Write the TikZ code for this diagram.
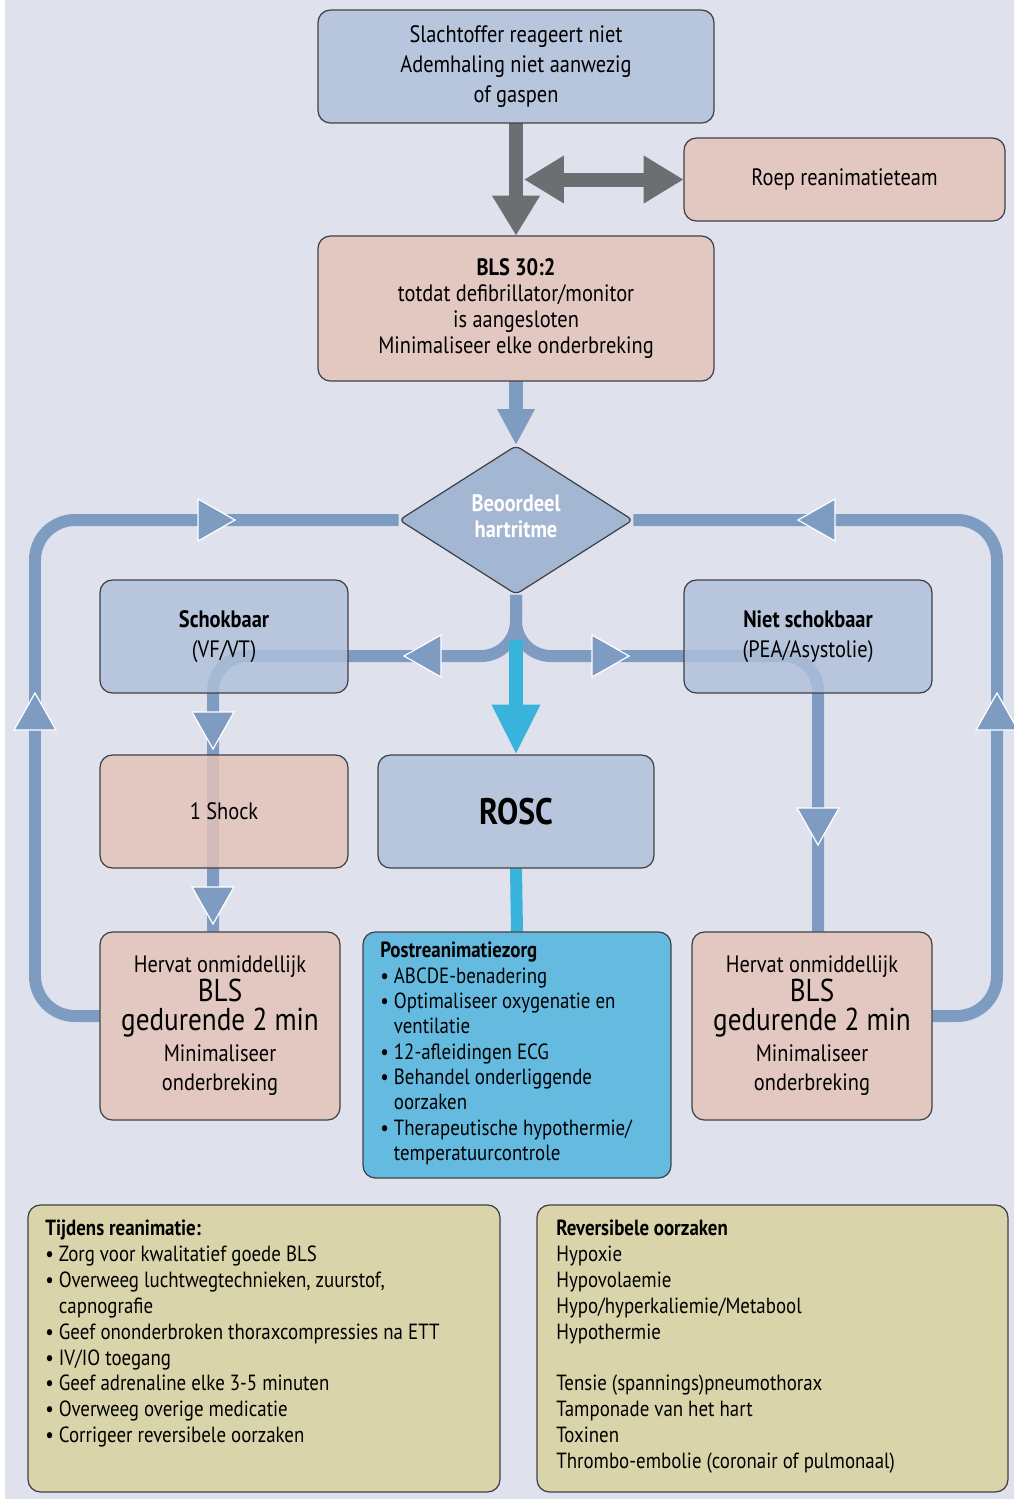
\documentclass[tikz,border=0pt]{standalone}
\usepackage{fontspec}
\setmainfont{PT Sans}[FakeStretch=0.86]
\usetikzlibrary{arrows.meta,shapes.geometric,calc}
\definecolor{bgc}{HTML}{DFE2ED}
\definecolor{boxblue}{HTML}{AFC0D9}
\definecolor{diamc}{HTML}{A3B6D2}
\definecolor{boxpink}{HTML}{E5C3B8}
\definecolor{lineblue}{HTML}{7E9CC1}
\definecolor{cyanarrow}{HTML}{38B4DC}
\definecolor{postc}{HTML}{65BAE0}
\definecolor{olive}{HTML}{D9D4A9}
\definecolor{grayarrow}{HTML}{6D6E71}
\definecolor{bordc}{HTML}{404146}
\tikzset{
  midhead/.pic={\filldraw[fill=lineblue, draw=white, line width=0.7pt] (-18,-21) -- (19,0) -- (-18,21) -- cycle;},
}
\begin{document}
\begin{tikzpicture}[x=0.02cm,y=-0.02cm,
  box/.style={draw=bordc, line width=0.7pt, rounded corners=7pt, inner sep=0pt, align=center, text=black, fill opacity=0.82, text opacity=1},
  bluebox/.style={box, fill=boxblue},
  pinkbox/.style={box, fill=boxpink},
  olivebox/.style={box, fill=olive, fill opacity=1},
  tnorm/.style={font=\fontsize{13.5}{17}\selectfont},
  tsmall/.style={font=\fontsize{12.5}{14.7}\selectfont},
  loopline/.style={draw=lineblue, line width=0.24cm},
  grayline/.style={draw=grayarrow, line width=0.28cm},
  cyanline/.style={draw=cyanarrow, line width=0.28cm},
  txt/.style={inner sep=0pt, align=left, anchor=north west, text=black},
]
\useasboundingbox (0,0) rectangle (1014,1499);
\fill[bgc] (0,0) rectangle (1014,1499);
\fill[white] (0,0) rectangle (5,1499);

% ---------- nodes (positions only; drawn later for transparency over lines) ----------
\path
 (516,66.5)   node[minimum width=7.92cm, minimum height=2.26cm] (start) {}
 (844.5,179.5) node[minimum width=6.42cm, minimum height=1.66cm] (roep) {}
 (516,308.5)  node[minimum width=7.92cm, minimum height=2.9cm] (bls) {}
 (516,520)    node[diamond, minimum width=4.68cm, minimum height=2.98cm, inner sep=0pt] (diam) {}
 (224,636.5)  node[minimum width=4.96cm, minimum height=2.26cm] (schok) {}
 (808,636.5)  node[minimum width=4.96cm, minimum height=2.26cm] (niet) {}
 (224,811.5)  node[minimum width=4.96cm, minimum height=2.26cm] (shock) {}
 (516,811.5)  node[minimum width=5.52cm, minimum height=2.26cm] (rosc) {}
 (220,1026)   node[minimum width=4.8cm, minimum height=3.76cm] (hervatL) {}
 (517,1055)   node[minimum width=6.16cm, minimum height=4.92cm] (post) {}
 (812,1026)   node[minimum width=4.8cm, minimum height=3.76cm] (hervatR) {};

% ---------- blue loop lines ----------
\draw[loopline, rounded corners=0.8cm] ([yshift=0.2cm]hervatL.west) -| (35,520) -- (diam.west);
\draw[loopline, rounded corners=0.8cm] ([yshift=0.2cm]hervatR.east) -| (997,520) -- (diam.east);
\draw[loopline, rounded corners=0.7cm] (diam.south) -- (516,656) -| ([xshift=-0.14cm]hervatL.north);
\draw[loopline, rounded corners=0.7cm] (diam.south) -- (516,656) -| ([xshift=0.12cm]hervatR.north);

\pic[rotate=0]   at (216,520) {midhead};
\pic[rotate=180] at (817,520) {midhead};
\pic[rotate=90]  at (35,712)  {midhead};
\pic[rotate=90]  at (997,712) {midhead};
\pic[rotate=180] at (423,656) {midhead};
\pic[rotate=0]   at (610,656) {midhead};
\pic[rotate=-90] at (213,730) {midhead};
\pic[rotate=-90] at (213,905) {midhead};
\pic[rotate=-90] at (818,826) {midhead};

% ---------- gray arrows ----------
\coordinate (dstart) at (524,179.5);
\draw[grayline, -{Triangle[length=0.8cm, width=0.9cm]}] (start.south) -- (bls.north);
\draw[grayline, {Triangle[length=0.8cm, width=0.9cm]}-{Triangle[length=0.8cm, width=0.9cm]}] (dstart) -- (roep.west);

% ---------- BLS to diamond ----------
\draw[loopline, line width=0.28cm, -{Triangle[length=0.72cm, width=0.7cm]}] (bls.south) -- (diam.north);

% ---------- cyan ----------
\coordinate (split) at (516,640);
\draw[cyanline, -{Triangle[length=1cm, width=0.9cm]}] (split) -- (rosc.north);
\draw[cyanline, line width=0.24cm] (rosc.south) -- (post.north);

% ---------- boxes ----------
\node[bluebox, tnorm, minimum width=7.92cm, minimum height=2.26cm] (startB) at (start)
  {Slachtoffer reageert niet\\Ademhaling niet aanwezig\\of gaspen};
\node[pinkbox, tnorm, minimum width=6.42cm, minimum height=1.66cm] (roepB) at (roep)
  {Roep reanimatieteam};
\node[pinkbox, font=\fontsize{13.5}{14.8}\selectfont, minimum width=7.92cm, minimum height=2.9cm] (blsB) at (bls)
  {\textbf{BLS 30:2}\\totdat defibrillator/monitor\\is aangesloten\\Minimaliseer elke onderbreking};
\node[diamond, draw=bordc, line width=0.7pt, fill=diamc, rounded corners=3pt, minimum width=4.68cm, minimum height=2.98cm, inner sep=0pt] (diamB) at (diam) {};
\node[align=center, text=white, font=\bfseries\fontsize{13.5}{14.8}\selectfont] (diamT) at (516,516) {Beoordeel\\hartritme};
\node[bluebox, tnorm, minimum width=4.96cm, minimum height=2.26cm] (schokB) at (schok)
  {\textbf{Schokbaar}\\(VF/VT)};
\node[bluebox, tnorm, minimum width=4.96cm, minimum height=2.26cm] (nietB) at (niet)
  {\textbf{Niet schokbaar}\\(PEA/Asystolie)};
\node[pinkbox, tnorm, minimum width=4.96cm, minimum height=2.26cm] (shockB) at (shock)
  {1 Shock};
\node[bluebox, font=\bfseries\fontsize{21}{24}\selectfont, minimum width=5.52cm, minimum height=2.26cm] (roscB) at (rosc)
  {ROSC};
\node[pinkbox, font=\fontsize{13.5}{15}\selectfont, minimum width=4.8cm, minimum height=3.76cm] (hervatLB) at (hervatL)
  {Hervat onmiddellijk\\[-0.5pt]{\fontsize{18}{18}\selectfont BLS}\\[1.3pt]{\fontsize{18}{18}\selectfont gedurende 2 min}\\[3.1pt]Minimaliseer\\[1.5pt]onderbreking};
\node[pinkbox, font=\fontsize{13.5}{15}\selectfont, minimum width=4.8cm, minimum height=3.76cm] (hervatRB) at (hervatR)
  {Hervat onmiddellijk\\[-0.5pt]{\fontsize{18}{18}\selectfont BLS}\\[1.3pt]{\fontsize{18}{18}\selectfont gedurende 2 min}\\[3.1pt]Minimaliseer\\[1.5pt]onderbreking};
\node[box, fill=postc, fill opacity=1, minimum width=6.16cm, minimum height=4.92cm] (postB) at (post) {};
\node[txt, font=\fontsize{12.5}{14.4}\selectfont] (postT) at (380,942)
  {\textbf{Postreanimatiezorg}\\
   \textbullet\ ABCDE-benadering\\
   \textbullet\ Optimaliseer oxygenatie en\\
   \hphantom{\textbullet\ }ventilatie\\
   \textbullet\ 12-afleidingen ECG\\
   \textbullet\ Behandel onderliggende\\
   \hphantom{\textbullet\ }oorzaken\\
   \textbullet\ Therapeutische hypothermie/\\
   \hphantom{\textbullet\ }temperatuurcontrole};

% ---------- bottom boxes ----------
\node[olivebox, minimum width=9.44cm, minimum height=5.74cm] (tijdens) at (264,1348.5) {};
\node[olivebox, minimum width=9.42cm, minimum height=5.74cm] (rev) at (772.5,1348.5) {};
\node[txt, tsmall] (tijdensT) at (45,1220)
  {\textbf{Tijdens reanimatie:}\\
   \textbullet\ Zorg voor kwalitatief goede BLS\\
   \textbullet\ Overweeg luchtwegtechnieken, zuurstof,\\
   \hphantom{\textbullet\ }capnografie\\
   \textbullet\ Geef ononderbroken thoraxcompressies na ETT\\
   \textbullet\ IV/IO toegang\\
   \textbullet\ Geef adrenaline elke 3-5 minuten\\
   \textbullet\ Overweeg overige medicatie\\
   \textbullet\ Corrigeer reversibele oorzaken};
\node[txt, tsmall] (revT) at (556,1220)
  {\textbf{Reversibele oorzaken}\\
   Hypoxie\\
   Hypovolaemie\\
   Hypo/hyperkaliemie/Metabool\\
   Hypothermie\\[14.7pt]
   Tensie (spannings)pneumothorax\\
   Tamponade van het hart\\
   Toxinen\\
   Thrombo-embolie (coronair of pulmonaal)};
\end{tikzpicture}
\end{document}
